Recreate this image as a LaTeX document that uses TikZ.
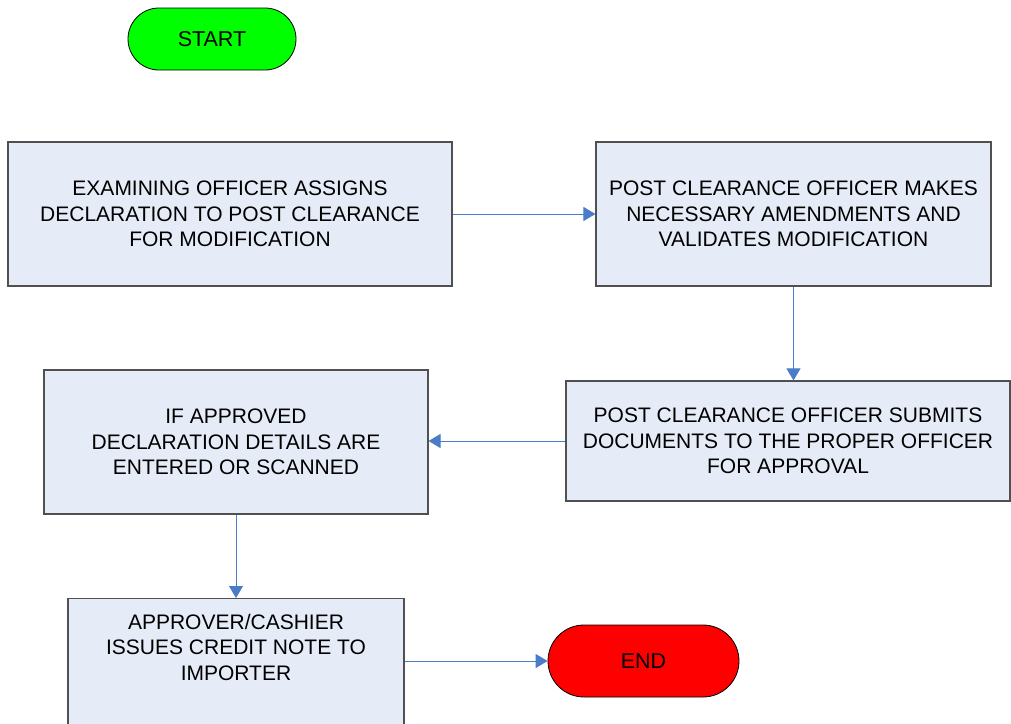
\documentclass[tikz,border=0pt]{standalone}
\usepackage{fontspec}
\setmainfont{Liberation Sans}
\usetikzlibrary{arrows.meta,shapes.misc}
\definecolor{boxfill}{HTML}{E6ECF7}
\definecolor{boxline}{HTML}{505050}
\definecolor{flow}{HTML}{4A7CC8}
\definecolor{startgreen}{HTML}{00FF00}
\definecolor{endred}{HTML}{FF0000}
\tikzset{
  stepbox/.style={draw=boxline, line width=1.1pt, fill=boxfill, align=center,
    font=\fontsize{21}{25.5}\selectfont, inner sep=0pt},
  terminal/.style={draw=black, line width=0.8pt, rounded rectangle, align=center,
    font=\fontsize{21.5}{25}\selectfont, inner sep=0pt},
  flowline/.style={draw=flow, line width=1pt, -{Triangle[length=12pt,width=14pt]}}
}
\begin{document}
\begin{tikzpicture}[x=1pt,y=-1pt]
\useasboundingbox (0,0) rectangle (1011,723);
\clip (0,0) rectangle (1011,723);
\node[terminal, fill=startgreen, minimum width=168pt, minimum height=62pt] (start) at (212,39) {START};
\node[stepbox, minimum width=444pt, minimum height=144pt] (assign) at (230,214)
  {EXAMINING OFFICER ASSIGNS\\DECLARATION TO POST CLEARANCE\\FOR MODIFICATION};
\node[stepbox, minimum width=395pt, minimum height=144pt] (amend) at (793.5,214)
  {POST CLEARANCE OFFICER MAKES\\NECESSARY AMENDMENTS AND\\VALIDATES MODIFICATION};
\node[stepbox, minimum width=444pt, minimum height=120pt] (submit) at (788,441)
  {POST CLEARANCE OFFICER SUBMITS\\DOCUMENTS TO THE PROPER OFFICER\\FOR APPROVAL};
\node[stepbox, minimum width=384pt, minimum height=144pt] (enter) at (236,442)
  {IF APPROVED\\DECLARATION DETAILS ARE\\ENTERED OR SCANNED};
\node[stepbox, minimum width=336pt, minimum height=144pt, anchor=north] (credit) at (236,598) {};
\node[font=\fontsize{21}{25.5}\selectfont, align=center] (credittext) at (236,647)
  {APPROVER/CASHIER\\ISSUES CREDIT NOTE TO\\IMPORTER};
\node[terminal, fill=endred, minimum width=191pt, minimum height=72pt] (end) at (643.5,661) {END};
\draw[flowline] (assign.east) -- (amend.west);
\draw[flowline] (amend.south) -- (amend.south |- submit.north);
\draw[flowline] (submit.west) -- (submit.west -| enter.east);
\draw[flowline] (enter.south) -- (credit.north);
\draw[flowline] (credit.east |- end.west) -- (end.west);
\end{tikzpicture}
\end{document}
